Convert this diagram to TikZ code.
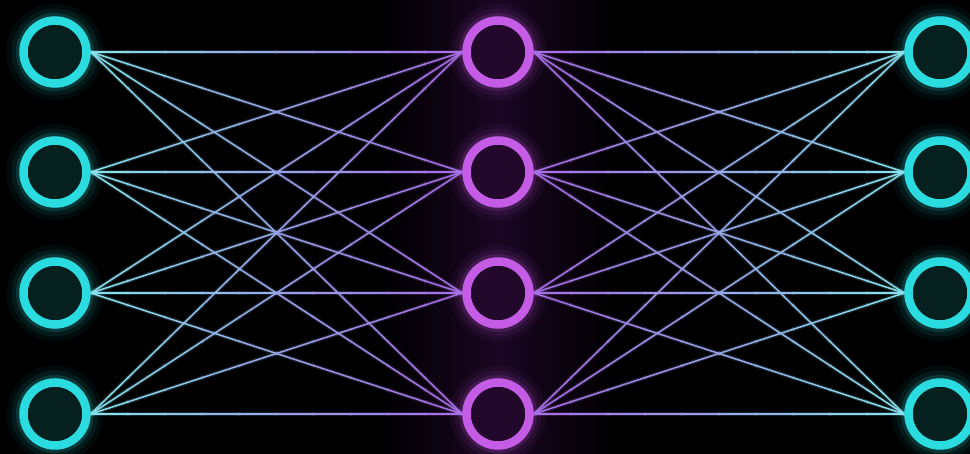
\documentclass[tikz,border=0pt]{standalone}
\usetikzlibrary{calc}
\definecolor{cyanC}{HTML}{2ADCE0}
\definecolor{magC}{HTML}{C45CE6}
\definecolor{lineC}{HTML}{86E4EC}
\definecolor{lineM}{HTML}{A86AE6}
\definecolor{cyanIn}{HTML}{05201F}
\definecolor{magIn}{HTML}{22082A}
\definecolor{haze}{HTML}{1A0622}
\pgfdeclarelayer{bg}
\pgfsetlayers{bg,main}
\begin{document}
\begin{tikzpicture}[x=1pt,y=-1pt,
  cnode/.style={circle,draw=cyanC,fill=cyanIn,line width=8.5pt,minimum size=63pt,inner sep=0pt},
  mnode/.style={circle,draw=magC,fill=magIn,line width=8.5pt,minimum size=63pt,inner sep=0pt},
  link/.style={line width=1.5pt,line cap=round},
  linkglow/.style={line width=4pt,line cap=round,opacity=0.18}]
\useasboundingbox (0,0) rectangle (970,454);
% nodes
\foreach \i/\y in {1/52,2/172,3/293,4/414}{
  \node[cnode] (L\i) at (55,\y) {};
  \node[mnode] (M\i) at (498,\y) {};
  \node[cnode] (R\i) at (940,\y) {};
}
\begin{pgfonlayer}{bg}
  \fill[black] (0,0) rectangle (970,454);
  \shade[left color=black,right color=black,middle color=haze] (380,0) rectangle (616,454);
  % node glows
  \foreach \i in {1,...,4}{
    \foreach \n/\c in {L/cyanC,M/magC,R/cyanC}{
      \draw[\c,line width=34pt,opacity=0.05] (\n\i.center) circle (31.5pt);
      \draw[\c,line width=24pt,opacity=0.08] (\n\i.center) circle (31.5pt);
      \draw[\c,line width=15pt,opacity=0.15] (\n\i.center) circle (31.5pt);
    }
  }
  % connectors with colour gradient
  \foreach \i in {1,...,4}{
    \foreach \j in {1,...,4}{
      \foreach \k in {0,...,9}{
        \pgfmathsetmacro\pa{\k/10}
        \pgfmathsetmacro\pb{(\k+1)/10}
        \pgfmathsetmacro\pc{int(100-(\k+0.5)*10)}
        \draw[linkglow,lineC!\pc!lineM] ($(L\i.east)!\pa!(M\j.west)$) -- ($(L\i.east)!\pb!(M\j.west)$);
        \draw[link,lineC!\pc!lineM] ($(L\i.east)!\pa!(M\j.west)$) -- ($(L\i.east)!\pb!(M\j.west)$);
        \draw[linkglow,lineM!\pc!lineC] ($(M\i.east)!\pa!(R\j.west)$) -- ($(M\i.east)!\pb!(R\j.west)$);
        \draw[link,lineM!\pc!lineC] ($(M\i.east)!\pa!(R\j.west)$) -- ($(M\i.east)!\pb!(R\j.west)$);
      }
    }
  }
\end{pgfonlayer}
\end{tikzpicture}
\end{document}
